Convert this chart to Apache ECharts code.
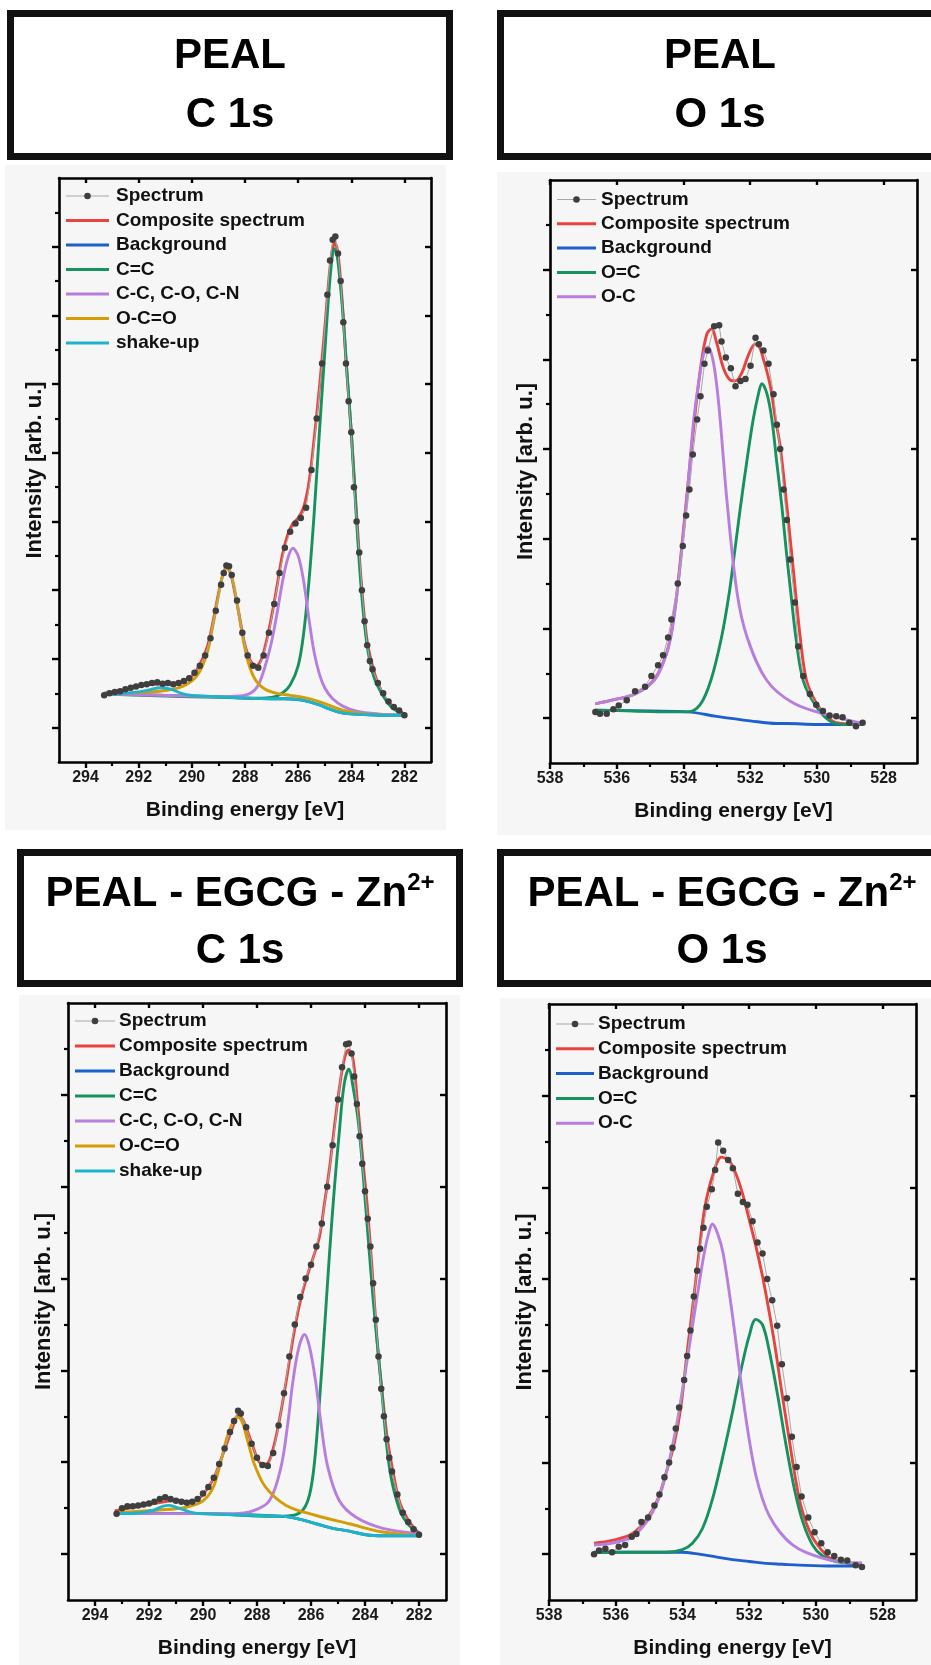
<!DOCTYPE html>
<html><head><meta charset="utf-8">
<script src="https://cdn.jsdelivr.net/npm/echarts@6/dist/echarts.min.js"></script>
<style>html,body{margin:0;padding:0;background:#fff}#c{width:931px;height:1665px}</style>
</head><body><div id="c"></div>
<script>
// ---------- tick labels ----------
const xMajorC = [294,292,290,288,286,284,282];
const xMinorC = [293,291,289,287,285,283];
const xMajorO = [538,536,534,532,530,528];
const xMinorO = [537,535,533,531,529];
const yMajor8 = [0,1,2,3,4,5,6,7];
const yMinor8 = [0.5,1.5,2.5,3.5,4.5,5.5,6.5,7.5];
const yMajor6 = [0,1,2,3,4,5];
const yMinor6 = [0.5,1.5,2.5,3.5,4.5,5.5];

// ---------- PEAL C 1s ----------
const c1Spectrum = [[293.3,0.47],[293.1,0.5],[292.9,0.52],[292.7,0.53],[292.5,0.56],[292.3,0.58],[292.1,0.6],[291.9,0.62],[291.7,0.63],[291.5,0.65],[291.3,0.66],[291.1,0.64],[290.9,0.65],[290.7,0.63],[290.5,0.65],[290.3,0.68],[290.1,0.72],[289.9,0.8],[289.7,0.9],[289.5,1.05],[289.3,1.3],[289.1,1.7],[288.9,2.08],[288.8,2.25],[288.7,2.36],[288.6,2.35],[288.5,2.22],[288.3,1.85],[288.1,1.38],[287.9,1.05],[287.7,0.9],[287.5,0.87],[287.3,1.05],[287.1,1.38],[286.9,1.8],[286.7,2.25],[286.5,2.62],[286.3,2.85],[286.1,2.97],[285.9,3.05],[285.7,3.2],[285.5,3.75],[285.3,4.5],[285.1,5.3],[284.9,6.3],[284.8,6.8],[284.7,7.1],[284.6,7.15],[284.5,6.9],[284.4,6.5],[284.3,5.9],[284.2,5.3],[284.1,4.75],[284.0,4.3],[283.9,3.5],[283.8,3.0],[283.7,2.55],[283.6,2.0],[283.5,1.55],[283.4,1.2],[283.3,0.97],[283.2,0.85],[283.0,0.65],[282.8,0.5],[282.6,0.38],[282.4,0.3],[282.2,0.25],[282.0,0.18]];
const c1Composite = [[293.3,0.5],[292.5,0.55],[292,0.6],[291.5,0.63],[291,0.64],[290.5,0.64],[290.2,0.7],[290,0.75],[289.8,0.85],[289.6,1.0],[289.4,1.2],[289.2,1.55],[289,1.95],[288.85,2.2],[288.7,2.33],[288.55,2.25],[288.4,2.0],[288.2,1.6],[288,1.2],[287.8,0.98],[287.6,0.9],[287.4,0.98],[287.2,1.25],[287,1.62],[286.8,2.05],[286.6,2.5],[286.4,2.8],[286.2,2.97],[286,3.05],[285.8,3.2],[285.6,3.55],[285.4,4.2],[285.2,4.95],[285,5.8],[284.85,6.5],[284.72,6.95],[284.62,7.05],[284.5,6.9],[284.35,6.25],[284.2,5.35],[284,4.3],[283.8,3.1],[283.6,2.0],[283.4,1.25],[283.2,0.9],[283,0.65],[282.7,0.42],[282.4,0.3],[282,0.2]];
const c1Background = [[293.3,0.49],[292,0.48],[291,0.47],[290,0.46],[289,0.45],[288,0.43],[287,0.42],[286.5,0.42],[286,0.41],[285.6,0.38],[285.2,0.33],[284.8,0.27],[284.4,0.22],[284,0.2],[283.5,0.19],[282.5,0.18],[282,0.18]];
const c1CC = [[293.3,0.49],[291,0.46],[289,0.44],[287.5,0.43],[287,0.44],[286.6,0.5],[286.3,0.62],[286,0.9],[285.8,1.35],[285.6,2.1],[285.4,3.1],[285.2,4.3],[285,5.45],[284.85,6.3],[284.72,6.85],[284.64,6.97],[284.55,6.9],[284.45,6.6],[284.3,5.95],[284.15,5.1],[284,4.3],[283.8,3.0],[283.6,1.9],[283.4,1.18],[283.2,0.8],[283,0.6],[282.7,0.4],[282.4,0.27],[282,0.2]];
const c1CCO = [[293.3,0.49],[290,0.46],[289,0.45],[288.2,0.46],[287.8,0.5],[287.5,0.62],[287.2,0.95],[287,1.25],[286.8,1.65],[286.6,2.1],[286.4,2.45],[286.2,2.61],[286,2.5],[285.8,2.15],[285.6,1.6],[285.4,1.1],[285.2,0.78],[285,0.58],[284.7,0.42],[284.3,0.31],[283.8,0.24],[283,0.2],[282,0.18]];
const c1OCO = [[293.3,0.5],[292.5,0.5],[292,0.51],[291.5,0.52],[291,0.54],[290.5,0.58],[290.2,0.63],[290,0.68],[289.8,0.76],[289.6,0.9],[289.4,1.12],[289.2,1.5],[289,1.92],[288.85,2.2],[288.7,2.32],[288.6,2.3],[288.45,2.12],[288.3,1.82],[288.1,1.35],[287.9,0.98],[287.7,0.76],[287.5,0.64],[287.2,0.55],[286.8,0.5],[286.3,0.47],[285.8,0.44],[285.3,0.39],[284.8,0.32],[284.3,0.25],[283.5,0.2],[282,0.18]];
const c1Shake = [[293.3,0.49],[292.5,0.5],[292,0.52],[291.6,0.55],[291.2,0.58],[290.8,0.56],[290.4,0.5],[290,0.47],[289,0.45],[288,0.43],[287,0.42],[286.5,0.42],[286,0.41],[285.6,0.38],[285.2,0.33],[284.8,0.27],[284.4,0.22],[284,0.2],[283.5,0.19],[282.5,0.18],[282,0.18]];

// ---------- PEAL O 1s ----------
const o1Spectrum = [[536.64,0.07],[536.5,0.05],[536.3,0.05],[536.1,0.1],[535.94,0.14],[535.7,0.2],[535.45,0.3],[535.15,0.35],[534.96,0.47],[534.76,0.59],[534.61,0.7],[534.46,0.9],[534.36,1.1],[534.17,1.5],[534.02,1.92],[533.92,2.26],[533.82,2.55],[533.72,2.94],[533.59,3.33],[533.49,3.59],[533.37,3.95],[533.27,4.1],[533.08,4.37],[532.93,4.38],[532.86,4.2],[532.73,4.02],[532.58,3.9],[532.44,3.7],[532.29,3.76],[532.14,3.78],[531.99,3.93],[531.84,4.24],[531.74,4.17],[531.6,4.1],[531.45,3.95],[531.3,3.61],[531.2,3.27],[531.1,3.0],[531.0,2.55],[530.9,2.21],[530.8,1.77],[530.66,1.29],[530.56,0.8],[530.41,0.47],[530.21,0.27],[530.02,0.15],[529.82,0.08],[529.62,0.03],[529.42,0.02],[529.23,0.01],[529.03,-0.05],[528.83,-0.09],[528.63,-0.05]];
const o1Composite = [[536.64,0.16],[536.14,0.2],[535.45,0.27],[534.88,0.43],[534.56,0.67],[534.38,0.92],[534.19,1.42],[533.92,2.4],[533.67,3.33],[533.47,3.95],[533.3,4.28],[533.16,4.34],[533.0,4.18],[532.8,3.9],[532.6,3.77],[532.44,3.76],[532.25,3.85],[532.05,4.05],[531.85,4.17],[531.75,4.16],[531.6,4.0],[531.4,3.71],[531.25,3.35],[531.1,3.03],[530.9,2.36],[530.7,1.63],[530.5,0.9],[530.31,0.42],[530.02,0.17],[529.72,0.03],[529.42,-0.05],[528.63,-0.07]];
const o1Background = [[536.64,0.09],[535,0.08],[533.87,0.07],[533,0.02],[532,-0.03],[531.2,-0.06],[530.9,-0.06],[530,-0.07],[528.63,-0.07]];
const o1OC = [[536.64,0.09],[535.5,0.08],[534.5,0.07],[533.87,0.07],[533.5,0.15],[533.18,0.42],[532.86,0.9],[532.63,1.39],[532.46,1.87],[532.29,2.36],[532.11,2.84],[531.91,3.33],[531.75,3.62],[531.65,3.73],[531.5,3.62],[531.35,3.33],[531.2,2.84],[531.05,2.36],[530.92,1.87],[530.78,1.39],[530.63,0.9],[530.41,0.42],[530.02,0.13],[529.62,-0.03],[529.2,-0.07],[528.63,-0.07]];
const o1CO = [[536.64,0.16],[536.14,0.2],[535.45,0.27],[534.88,0.42],[534.56,0.66],[534.38,0.9],[534.19,1.39],[533.92,2.36],[533.69,3.33],[533.5,3.85],[533.38,4.08],[533.26,4.14],[533.12,4.0],[533.0,3.7],[532.9,3.33],[532.68,2.36],[532.39,1.39],[532.09,0.9],[531.5,0.42],[530.71,0.17],[529.62,0.03],[528.63,-0.06]];

// ---------- PEAL-EGCG-Zn C 1s ----------
const c2Spectrum = [[293.2,0.44],[293.0,0.5],[292.8,0.52],[292.6,0.52],[292.4,0.53],[292.2,0.54],[292.0,0.55],[291.8,0.57],[291.6,0.6],[291.4,0.62],[291.2,0.6],[291.0,0.58],[290.8,0.57],[290.6,0.56],[290.4,0.57],[290.2,0.6],[290.0,0.66],[289.8,0.73],[289.6,0.83],[289.4,0.98],[289.2,1.15],[289.0,1.33],[288.85,1.45],[288.7,1.56],[288.6,1.53],[288.4,1.38],[288.2,1.2],[288.0,1.05],[287.8,0.97],[287.6,0.96],[287.4,1.1],[287.2,1.4],[287.0,1.75],[286.8,2.15],[286.6,2.5],[286.4,2.8],[286.2,3.0],[286.0,3.15],[285.8,3.35],[285.6,3.6],[285.4,4.0],[285.2,4.45],[285.0,4.95],[284.85,5.3],[284.7,5.55],[284.6,5.56],[284.5,5.45],[284.4,5.2],[284.3,4.9],[284.2,4.55],[284.1,4.25],[284.0,3.95],[283.9,3.65],[283.8,3.35],[283.7,2.95],[283.6,2.55],[283.5,2.15],[283.4,1.8],[283.3,1.5],[283.2,1.25],[283.1,1.05],[283.0,0.9],[282.8,0.65],[282.6,0.45],[282.4,0.35],[282.2,0.27],[282.0,0.21]];
const c2Composite = [[293.27,0.47],[291.61,0.56],[291.11,0.58],[290.37,0.57],[290.0,0.65],[289.63,0.81],[289.26,1.09],[288.89,1.39],[288.71,1.51],[288.52,1.46],[288.22,1.23],[287.91,1.0],[287.66,0.98],[287.41,1.14],[287.17,1.46],[286.92,1.88],[286.67,2.34],[286.43,2.71],[286.18,2.99],[285.93,3.22],[285.69,3.45],[285.5,3.82],[285.32,4.19],[285.13,4.66],[284.95,5.07],[284.76,5.4],[284.6,5.49],[284.45,5.4],[284.27,4.89],[284.08,4.29],[283.9,3.73],[283.71,2.99],[283.53,2.25],[283.34,1.69],[283.16,1.23],[282.97,0.91],[282.73,0.58],[282.42,0.38],[282.11,0.26],[281.93,0.21]];
const c2Background = [[293.27,0.44],[290.13,0.44],[287.04,0.41],[286.43,0.38],[285.81,0.33],[285.19,0.28],[284.58,0.25],[283.96,0.21],[283.34,0.2],[281.93,0.2]];
const c2CC = [[293.27,0.44],[290,0.44],[287.5,0.41],[286.7,0.42],[286.3,0.48],[286.05,0.65],[285.87,1.0],[285.69,1.65],[285.5,2.45],[285.32,3.25],[285.13,4.0],[284.95,4.6],[284.78,5.1],[284.6,5.28],[284.45,5.1],[284.23,4.66],[283.96,3.73],[283.71,2.81],[283.41,1.88],[283.1,0.95],[282.73,0.49],[282.36,0.31],[281.93,0.22]];
const c2CCO = [[293.27,0.44],[290,0.44],[288.89,0.44],[288.15,0.47],[287.54,0.58],[287.11,0.95],[286.86,1.42],[286.67,1.88],[286.45,2.25],[286.24,2.39],[286.05,2.25],[285.83,1.88],[285.63,1.42],[285.38,0.95],[284.95,0.58],[284.33,0.4],[283.34,0.28],[281.93,0.22]];
const c2OCO = [[293.27,0.45],[291.61,0.48],[290.62,0.51],[290.0,0.58],[289.63,0.72],[289.39,0.95],[289.1,1.28],[288.85,1.46],[288.71,1.49],[288.55,1.44],[288.3,1.18],[288.06,0.95],[287.66,0.72],[286.92,0.53],[285.81,0.42],[284.58,0.33],[283.34,0.24],[281.93,0.2]];
const c2Shake = [[293.27,0.44],[292.3,0.45],[291.8,0.48],[291.5,0.52],[291.24,0.53],[290.9,0.5],[290.5,0.46],[290.13,0.44],[287.04,0.41],[286.43,0.38],[285.81,0.33],[285.19,0.28],[284.58,0.25],[283.96,0.21],[283.34,0.2],[281.93,0.2]];

// ---------- PEAL-EGCG-Zn O 1s ----------
const o2Spectrum = [[536.65,0.0],[536.5,0.04],[536.31,0.06],[536.11,0.02],[535.91,0.08],[535.72,0.1],[535.52,0.19],[535.38,0.22],[535.23,0.35],[535.03,0.4],[534.84,0.53],[534.69,0.65],[534.54,0.84],[534.4,1.0],[534.3,1.16],[534.2,1.37],[534.1,1.6],[533.95,1.9],[533.86,2.16],[533.76,2.44],[533.66,2.81],[533.56,3.09],[533.47,3.33],[533.37,3.56],[533.27,3.79],[533.12,3.98],[533.02,4.19],[532.93,4.49],[532.78,4.4],[532.63,4.3],[532.49,4.21],[532.34,3.93],[532.19,3.84],[532.05,3.81],[531.9,3.63],[531.75,3.4],[531.6,3.28],[531.46,3.0],[531.31,2.77],[531.16,2.49],[531.02,2.07],[530.87,1.7],[530.72,1.28],[530.58,0.95],[530.43,0.63],[530.23,0.4],[530.04,0.24],[529.84,0.12],[529.65,0.02],[529.45,-0.02],[529.25,-0.06],[529.06,-0.07],[528.81,-0.12],[528.62,-0.14]];
const o2Composite = [[536.65,0.12],[536.11,0.15],[535.52,0.22],[535.08,0.38],[534.74,0.6],[534.44,0.95],[534.25,1.2],[534.05,1.6],[533.86,2.2],[533.66,2.8],[533.47,3.4],[533.32,3.8],[533.07,4.16],[532.83,4.33],[532.58,4.28],[532.39,4.14],[532.19,3.92],[532.0,3.65],[531.8,3.36],[531.6,3.03],[531.41,2.66],[531.21,2.23],[531.02,1.76],[530.82,1.3],[530.62,0.84],[530.43,0.5],[530.14,0.21],[529.84,0.05],[529.55,-0.05],[529.0,-0.1],[528.62,-0.12]];
const o2Background = [[536.65,0.02],[534.05,0.02],[533.5,0.0],[533.0,-0.03],[532.5,-0.06],[532.0,-0.08],[531.5,-0.1],[531.0,-0.11],[530.5,-0.12],[529.5,-0.13],[528.62,-0.13]];
const o2OC = [[536.65,0.02],[535.5,0.02],[534.5,0.02],[534.0,0.05],[533.7,0.12],[533.4,0.28],[533.1,0.6],[532.8,1.05],[532.5,1.55],[532.25,2.0],[532.0,2.38],[531.8,2.56],[531.6,2.5],[531.4,2.22],[531.15,1.74],[530.9,1.2],[530.65,0.72],[530.4,0.36],[530.1,0.1],[529.8,-0.02],[529.4,-0.08],[528.62,-0.1]];
const o2CO = [[536.65,0.1],[536.11,0.12],[535.52,0.19],[535.08,0.35],[534.74,0.58],[534.44,0.95],[534.17,1.42],[533.96,1.88],[533.76,2.35],[533.56,2.81],[533.35,3.28],[533.2,3.52],[533.1,3.6],[532.95,3.5],[532.78,3.28],[532.5,2.6],[532.2,1.75],[532.0,1.25],[531.8,0.86],[531.6,0.6],[531.4,0.42],[531.1,0.25],[530.7,0.1],[530.3,0.02],[529.5,-0.07],[528.62,-0.1]];

// ---------- styling ----------
const FONT = 'Liberation Sans, Arial, Helvetica, sans-serif';
const COL = {spec:'#3f3f3f', specLine:'#a8a8a8', comp:'#e8433c', bg:'#1d5fcc', green:'#17925f', purple:'#b77ee0', orange:'#d49c05', cyan:'#1db4ca'};
const AX = {color:'#000', width:2.6};

const grids = [
  {left:59, top:178, width:372, height:584},
  {left:550, top:180, width:367, height:583},
  {left:68, top:1003, width:378, height:597},
  {left:549, top:1004, width:367, height:596}
];
const xRanges = [[281,295],[527,538],[281,295],[527,538]];
const yTops = [8,6,6,6];
const xMaj = [xMajorC,xMajorO,xMajorC,xMajorO];
const xMin = [xMinorC,xMinorO,xMinorC,xMinorO];
const yMaj = [yMajor8,yMajor6,yMajor6,yMajor6];
const yMin = [yMinor8,yMinor6,yMinor6,yMinor6];

const xAxis = [], yAxis = [];
grids.forEach((g,i)=>{
  const [mn,mx] = xRanges[i];
  const base = {gridIndex:i, type:'value', min:mn, max:mx, inverse:true, splitLine:{show:false}};
  xAxis.push(Object.assign({}, base, {position:'bottom',
    axisLine:{show:true,onZero:false,lineStyle:AX},
    axisTick:{show:true,length:6,lineStyle:{color:'#000',width:2.4},customValues:xMaj[i]},
    axisLabel:{show:true,customValues:xMaj[i],fontSize:16,fontWeight:'bold',color:'#1a1a1a',fontFamily:FONT,margin:8},
    name:'Binding energy [eV]', nameLocation:'middle', nameGap:38,
    nameTextStyle:{fontSize:21,fontWeight:'bold',color:'#111',fontFamily:FONT}}));
  xAxis.push(Object.assign({}, base, {position:'bottom',
    axisLine:{show:false,onZero:false},
    axisTick:{show:true,length:4,lineStyle:{color:'#000',width:2.2},customValues:xMin[i]},
    axisLabel:{show:false}}));
  xAxis.push(Object.assign({}, base, {position:'top',
    axisLine:{show:true,onZero:false,lineStyle:AX},
    axisTick:{show:true,inside:true,length:5,lineStyle:{color:'#000',width:2.4},customValues:xMaj[i]},
    axisLabel:{show:false}}));
  const yb = {gridIndex:i, type:'value', min:-0.5, max:yTops[i], splitLine:{show:false}, axisLabel:{show:false}};
  yAxis.push(Object.assign({}, yb, {position:'left',
    axisLine:{show:true,onZero:false,lineStyle:AX},
    axisTick:{show:true,length:7,lineStyle:{color:'#000',width:2.4},customValues:yMaj[i]},
    name:'Intensity [arb. u.]', nameLocation:'middle', nameGap:13,
    nameTextStyle:{fontSize:22,fontWeight:'bold',color:'#111',fontFamily:FONT}}));
  yAxis.push(Object.assign({}, yb, {position:'left',
    axisLine:{show:false,onZero:false},
    axisTick:{show:true,length:4,lineStyle:{color:'#000',width:2.2},customValues:yMin[i]}}));
  yAxis.push(Object.assign({}, yb, {position:'right',
    axisLine:{show:true,onZero:false,lineStyle:AX},
    axisTick:{show:true,inside:true,length:6,lineStyle:{color:'#000',width:2.4},customValues:yMaj[i]}}));
});

const series = [];
function fit(gi, name, data, color, z){
  series.push({type:'line', name, data, xAxisIndex:gi*3, yAxisIndex:gi*3, smooth:0.35,
    symbol:'none', lineStyle:{color, width:2.9}, itemStyle:{color}, z, silent:true, animation:false});
}
function spec(gi, data){
  series.push({type:'line', name:'Spectrum', data, xAxisIndex:gi*3, yAxisIndex:gi*3,
    symbol:'circle', symbolSize:6.5, showSymbol:true, showAllSymbol:true,
    lineStyle:{color:COL.specLine, width:1}, itemStyle:{color:COL.spec}, z:20, silent:true, animation:false});
}
fit(0,'Composite spectrum',c1Composite,COL.comp,3);
fit(0,'Background',c1Background,COL.bg,4);
fit(0,'C=C',c1CC,COL.green,5);
fit(0,'C-C, C-O, C-N',c1CCO,COL.purple,6);
fit(0,'O-C=O',c1OCO,COL.orange,7);
fit(0,'shake-up',c1Shake,COL.cyan,8);
spec(0,c1Spectrum);
fit(1,'Composite spectrum',o1Composite,COL.comp,3);
fit(1,'Background',o1Background,COL.bg,4);
fit(1,'O=C',o1OC,COL.green,5);
fit(1,'O-C',o1CO,COL.purple,6);
spec(1,o1Spectrum);
fit(2,'Composite spectrum',c2Composite,COL.comp,3);
fit(2,'Background',c2Background,COL.bg,4);
fit(2,'C=C',c2CC,COL.green,5);
fit(2,'C-C, C-O, C-N',c2CCO,COL.purple,6);
fit(2,'O-C=O',c2OCO,COL.orange,7);
fit(2,'shake-up',c2Shake,COL.cyan,8);
spec(2,c2Spectrum);
fit(3,'Composite spectrum',o2Composite,COL.comp,3);
fit(3,'Background',o2Background,COL.bg,4);
fit(3,'O=C',o2OC,COL.green,5);
fit(3,'O-C',o2CO,COL.purple,6);
spec(3,o2Spectrum);

// ---------- graphics: panels, title boxes, legends ----------
const graphic = [];
[[5,165,441,665],[497,172,434,663],[19,995,441,670],[500,998,431,667]].forEach(r=>{
  graphic.push({type:'rect', z:-10, shape:{x:r[0],y:r[1],width:r[2],height:r[3]}, style:{fill:'#f6f6f6'}, silent:true});
});
const boxes = [
  {x:10.5,y:13.5,w:439,h:143,cx:230,l1:'PEAL',l2:'C 1s',y1:56,y2:115},
  {x:500.5,y:13.5,w:439,h:143,cx:720,l1:'PEAL',l2:'O 1s',y1:56,y2:115},
  {x:20.5,y:852.5,w:439,h:131,cx:240,l1:null,l2:'C 1s',y1:894,y2:951},
  {x:500.5,y:852.5,w:439,h:131,cx:722,l1:null,l2:'O 1s',y1:894,y2:951}
];
boxes.forEach(b=>{
  graphic.push({type:'rect', z:-5, shape:{x:b.x,y:b.y,width:b.w,height:b.h}, style:{fill:'#fff',stroke:'#111',lineWidth:7}, silent:true});
  if (b.l1) {
    graphic.push({type:'text', z:1, x:b.cx, y:b.y1, style:{text:b.l1, fontSize:42, fontWeight:'bold', fontFamily:FONT, fill:'#000', align:'center', verticalAlign:'middle'}, silent:true});
  } else {
    graphic.push({type:'text', z:1, x:b.cx, y:b.y1, style:{text:'{m|PEAL - EGCG - Zn}{s|2+}', align:'center', verticalAlign:'middle',
      rich:{m:{fontSize:42,fontWeight:'bold',fontFamily:FONT,fill:'#000',lineHeight:46},
            s:{fontSize:24,fontWeight:'bold',fontFamily:FONT,fill:'#000',lineHeight:24,verticalAlign:'top'}}}, silent:true});
  }
  graphic.push({type:'text', z:1, x:b.cx, y:b.y2, style:{text:b.l2, fontSize:42, fontWeight:'bold', fontFamily:FONT, fill:'#000', align:'center', verticalAlign:'middle'}, silent:true});
});
const legC = [['Spectrum','spec'],['Composite spectrum',COL.comp],['Background',COL.bg],['C=C',COL.green],['C-C, C-O, C-N',COL.purple],['O-C=O',COL.orange],['shake-up',COL.cyan]];
const legO = [['Spectrum','spec'],['Composite spectrum',COL.comp],['Background',COL.bg],['O=C',COL.green],['O-C',COL.purple]];
const legends = [
  {items:legC, x0:66, x1:109, xt:116, y0:196, dy:24.5},
  {items:legO, x0:557, x1:596, xt:601, y0:199.5, dy:24.3},
  {items:legC, x0:75, x1:115, xt:119, y0:1021, dy:25},
  {items:legO, x0:556, x1:594, xt:598, y0:1024, dy:24.8}
];
legends.forEach(L=>{
  L.items.forEach((it,k)=>{
    const y = L.y0 + k*L.dy;
    if (it[1]==='spec') {
      graphic.push({type:'line', z:50, shape:{x1:L.x0,y1:y,x2:L.x1,y2:y}, style:{stroke:COL.specLine,lineWidth:1.2}, silent:true});
      graphic.push({type:'circle', z:51, shape:{cx:(L.x0+L.x1)/2,cy:y,r:3.3}, style:{fill:COL.spec}, silent:true});
    } else {
      graphic.push({type:'line', z:50, shape:{x1:L.x0,y1:y,x2:L.x1,y2:y}, style:{stroke:it[1],lineWidth:3}, silent:true});
    }
    graphic.push({type:'text', z:52, x:L.xt, y:y, style:{text:it[0], fontSize:19, fontWeight:'bold', fontFamily:FONT, fill:'#111', verticalAlign:'middle'}, silent:true});
  });
});

const chart = echarts.init(document.getElementById('c'), null, {renderer:'canvas'});
chart.setOption({
  backgroundColor:'#ffffff',
  animation:false,
  grid: grids.map(g=>Object.assign({outerBoundsMode:'none', containLabel:false}, g)),
  xAxis, yAxis, series, graphic
});
</script></body></html>
